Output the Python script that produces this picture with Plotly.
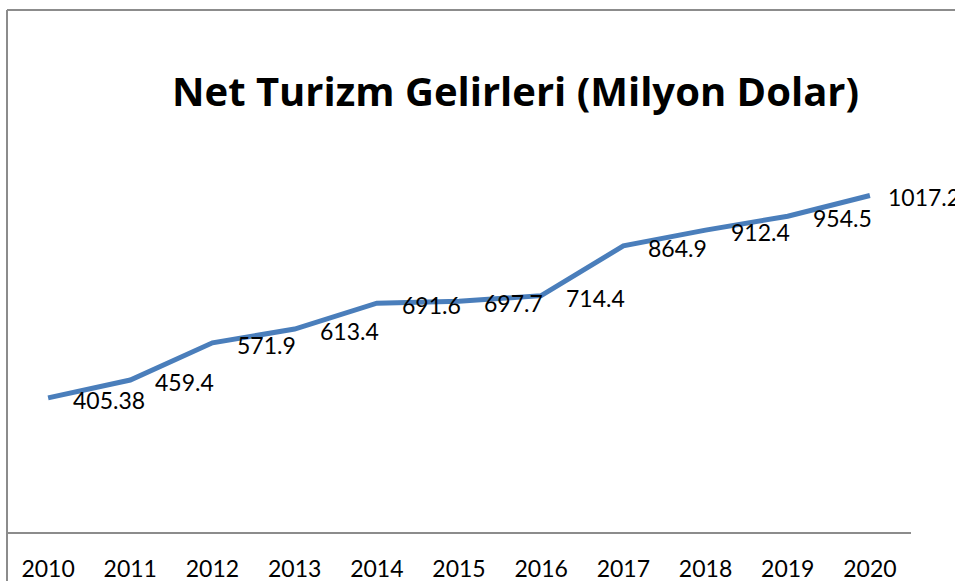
import plotly.graph_objects as go

years = ["2010", "2011", "2012", "2013", "2014", "2015", "2016", "2017", "2018", "2019", "2020"]
values = [405.38, 459.4, 571.9, 613.4, 691.6, 697.7, 714.4, 864.9, 912.4, 954.5, 1017.2]
labels = ["405.38", "459.4", "571.9", "613.4", "691.6", "697.7", "714.4", "864.9", "912.4", "954.5", "1017.2"]
title_text = "Net Turizm Gelirleri (Milyon Dolar)"

FONT = "Lato"
TITLE_FONT = "Open Sans"

fig = go.Figure()
fig.add_trace(go.Scatter(
    x=years, y=values, mode="lines",
    line=dict(color="#4a7ebb", width=5),
    hoverinfo="x+y", showlegend=False,
))

annotations = []
n = len(values)
for i, (v, lab) in enumerate(zip(values, labels)):
    annotations.append(dict(
        x=i, y=v, xref="x", yref="y", text=lab, showarrow=False,
        xanchor="left", yanchor="middle", xshift=(16 if i == n - 1 else 23), yshift=-2,
        font=dict(family=FONT, size=23, color="#000000"),
    ))
annotations.append(dict(
    x=0.5625, y=1.113, xref="paper", yref="paper", text="<b>" + title_text + "</b>",
    showarrow=False, xanchor="center", yanchor="middle",
    font=dict(family=TITLE_FONT, size=40, color="#000000"),
))

shapes = [
    dict(type="line", xref="paper", yref="paper", x0=0, x1=0, y0=-0.2, y1=1.315,
         line=dict(color="#8c8c8c", width=2)),
    dict(type="line", xref="paper", yref="paper", x0=0, x1=1.2, y0=1.315, y1=1.315,
         line=dict(color="#8c8c8c", width=2)),
]

fig.update_layout(
    width=955, height=581,
    margin=dict(l=7, r=44, t=135, b=49, pad=0, autoexpand=False),
    paper_bgcolor="white", plot_bgcolor="white",
    annotations=annotations, shapes=shapes,
    font=dict(family=FONT, color="#000000"),
    xaxis=dict(
        type="category", range=[-0.5, 10.5], showgrid=False, zeroline=False,
        showline=True, linecolor="#8c8c8c", linewidth=2, automargin=False,
        ticks="", tickfont=dict(family=FONT, size=23, color="#000000"),
        ticklabelstandoff=15, fixedrange=True,
    ),
    yaxis=dict(
        range=[0, 1200], visible=False, showgrid=False, zeroline=False, fixedrange=True,
        automargin=False,
    ),
)

fig.write_html(
    "out.html",
    config={"displayModeBar": False},
    post_script="document.body.style.margin='0';document.body.style.overflow='hidden';",
)
